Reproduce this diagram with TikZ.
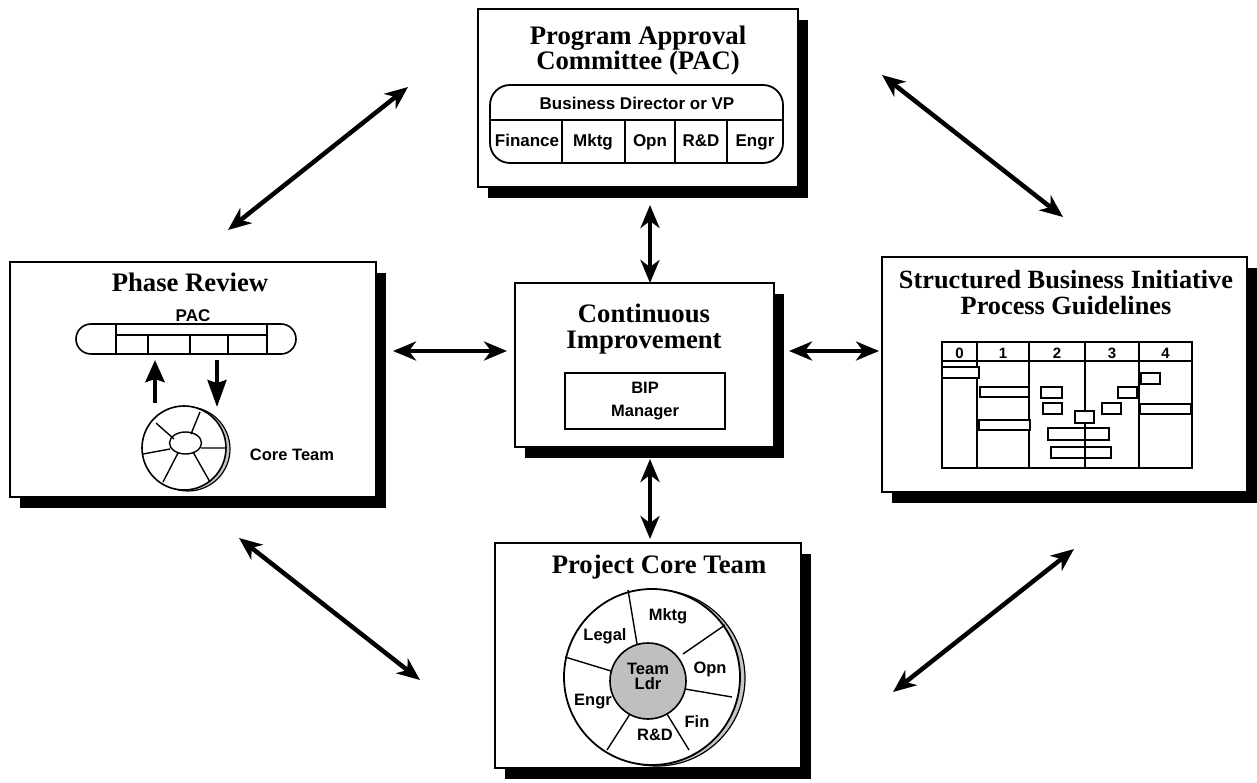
\documentclass[tikz,border=0pt]{standalone}
\usepackage{fontspec}
\setmainfont{Liberation Serif}
\newfontfamily\hv{Liberation Sans}
\usetikzlibrary{arrows.meta,shadows}

\begin{document}
\begin{tikzpicture}[x=1pt,y=-1pt,
  box/.style={draw, line width=1.8pt, fill=white, inner sep=0pt,
    drop shadow={shadow xshift=10pt, shadow yshift=-11pt, opacity=1, fill=black}},
  ttl/.style={font=\fontsize{26.7}{25}\selectfont\bfseries, inner sep=0pt, anchor=base},
  lbl/.style={font=\hv\fontsize{16.5}{18}\selectfont\bfseries, inner sep=0pt, anchor=base},
  sublbl/.style={font=\hv\fontsize{17}{18}\selectfont\bfseries, inner sep=0pt, anchor=base},
  link/.style={line width=4.5pt, {Stealth[length=23pt,width=19pt,inset=7pt]}-{Stealth[length=23pt,width=19pt,inset=7pt]}},
  ln/.style={line width=1.6pt},
  spoke/.style={line width=1.4pt},
  bar/.style={line width=1.7pt},
]
\useasboundingbox (0,0) rectangle (1257,783);

% ---------- Program Approval Committee ----------
\node[box, minimum width=320pt, minimum height=178pt] (pac) at (638,98) {};
\node[ttl] (pacT1) at (638,45) {Program Approval};
\node[ttl] (pacT2) at (638,70) {Committee (PAC)};
\draw[line width=1.8pt, rounded corners=20pt] (490,85) rectangle (783,163);
\draw[ln] (490,120) -- (783,120);
\foreach \x in {562,625,675,727} \draw[ln] (\x,120) -- (\x,163);
\node[sublbl] (bdvp) at (637,110) {Business Director or VP};
\node[sublbl] (fin) at (527,147) {Finance};
\node[sublbl] (mkt) at (593,147) {Mktg};
\node[sublbl] (opn) at (650,147) {Opn};
\node[sublbl] (rd) at (701,147) {R\&D};
\node[sublbl] (eng) at (755,147) {Engr};

% ---------- Phase Review ----------
\node[box, minimum width=366pt, minimum height=235pt] (pr) at (193,379.5) {};
\node[ttl] (prT) at (190,291) {Phase Review};
\node[sublbl] (prpac) at (193,321) {PAC};
\draw[line width=1.6pt, rounded corners=15pt] (76,324) rectangle (296,354);
\draw[ln] (116,324) -- (116,354) (267,324) -- (267,354) (116,335) -- (267,335);
\foreach \x in {148,190,228} \draw[ln] (\x,335) -- (\x,354);
\draw[line width=4.5pt, -{Stealth[length=22pt,width=19pt,inset=3pt]}] (155,403) -- (155,360);
\draw[line width=3.5pt, -{Stealth[length=27pt,width=19pt,inset=3pt]}] (217,360) -- (217,407);
\draw[line width=1.2pt, fill=gray!45] (188,449) circle (42);
\draw[line width=1.6pt, fill=white] (184,448) circle (42);
\draw[spoke] (185.5,443) ellipse [x radius=16, y radius=11];
\draw[spoke] (156,423) -- (174,439) (200,412) -- (191,434) (201,448) -- (226,448)
  (193,452) -- (210,482) (178,453) -- (163,482) (170,449) -- (143,454);
\node[lbl] (prct) at (292,460) {Core Team};

% ---------- Continuous Improvement ----------
\node[box, minimum width=259pt, minimum height=164pt] (ci) at (644.5,365) {};
\node[ttl] (ciT1) at (644,323) {Continuous};
\node[ttl] (ciT2) at (644,348) {Improvement};
\node[draw, line width=1.8pt, minimum width=160pt, minimum height=56pt, inner sep=0pt,
  align=center, font=\hv\fontsize{16.5}{23}\selectfont\bfseries] (bip) at (645,401) {BIP\\Manager};

% ---------- Structured Business Initiative ----------
\node[box, minimum width=365pt, minimum height=235pt] (sbi) at (1064.5,374.5) {};
\node[ttl, align=center, anchor=north, font=\fontsize{26.3}{26.5}\selectfont\bfseries] (sbiT) at (1066,270)
  {Structured Business Initiative\\Process Guidelines};
\draw[line width=1.8pt] (942,342) rectangle (1192,468);
\draw[line width=1.8pt] (942,361) -- (1192,361);
\foreach \x in {977,1029,1139} \draw[line width=1.8pt] (\x,342) -- (\x,468);
\draw[line width=2.6pt] (1085,342) -- (1085,468);
\foreach \x/\t in {959.5/0,1003/1,1057/2,1112/3,1165.5/4}
  \node[font=\hv\fontsize{15}{16}\selectfont\bfseries, inner sep=0pt, anchor=base] at (\x,358) {\t};
\draw[bar, fill=white] (942,367) rectangle (979,378);
\draw[bar, fill=white] (980,387) rectangle (1029,397);
\draw[bar, fill=white] (979,420) rectangle (1030,430);
\draw[bar, fill=white] (1041,387) rectangle (1062,398);
\draw[bar, fill=white] (1043,403) rectangle (1062,414);
\draw[bar, fill=white] (1075,411) rectangle (1094,423);
\draw[bar] (1048,428) rectangle (1109,440);
\draw[bar] (1051,447) rectangle (1111,458);
\draw[bar, fill=white] (1118,387) rectangle (1137,398);
\draw[bar, fill=white] (1102,403) rectangle (1121,414);
\draw[bar, fill=white] (1141,373) rectangle (1160,384);
\draw[bar, fill=white] (1140,404) rectangle (1191,414);

% ---------- Project Core Team ----------
\node[box, minimum width=306pt, minimum height=225pt] (pct) at (648,655.5) {};
\node[ttl] (pctT) at (659,573) {Project Core Team};
\draw[line width=1.2pt, fill=gray!45] (657,678) circle (88);
\draw[line width=1.8pt, fill=white] (652,677) circle (88);
\draw[line width=1.6pt, fill=black!25] (648,681) circle (38);
\draw[spoke] (628,590) -- (637,644) (725,625) -- (683,654) (732,697) -- (685,689)
  (689,750) -- (667,714) (607,750) -- (630,714) (565,657) -- (611,671);
\node[lbl] (cmk) at (668,620) {Mktg};
\node[lbl] (clg) at (605,640) {Legal};
\node[lbl] (cop) at (710,673) {Opn};
\node[lbl, anchor=center, align=center, font=\hv\fontsize{16.5}{15}\selectfont\bfseries] (ctl) at (648,676) {Team\\Ldr};
\node[lbl] (cen) at (593,705) {Engr};
\node[lbl] (cfi) at (697,727) {Fin};
\node[lbl] (crd) at (655,740) {R\&D};

% ---------- connectors ----------
\coordinate (tl1) at (408,87);   \coordinate (tl2) at (228,230);
\coordinate (tr1) at (882,75);   \coordinate (tr2) at (1063,217);
\coordinate (bl1) at (239,538);  \coordinate (bl2) at (420,680);
\coordinate (br1) at (1074,549); \coordinate (br2) at (893,692);
\coordinate (vt1) at (650,205);  \coordinate (vt2) at (650,283);
\coordinate (vb1) at (650,459);  \coordinate (vb2) at (650,539);
\coordinate (hl1) at (393,351);  \coordinate (hl2) at (507,351);
\coordinate (hr1) at (789,351);  \coordinate (hr2) at (879,351);
\draw[link] (tl1) -- (tl2);
\draw[link] (tr1) -- (tr2);
\draw[link] (bl1) -- (bl2);
\draw[link] (br1) -- (br2);
\draw[link] (vt1) -- (vt2);
\draw[link] (vb1) -- (vb2);
\draw[link, line width=4pt] (hl1) -- (hl2);
\draw[link, line width=4pt] (hr1) -- (hr2);
\end{tikzpicture}
\end{document}
